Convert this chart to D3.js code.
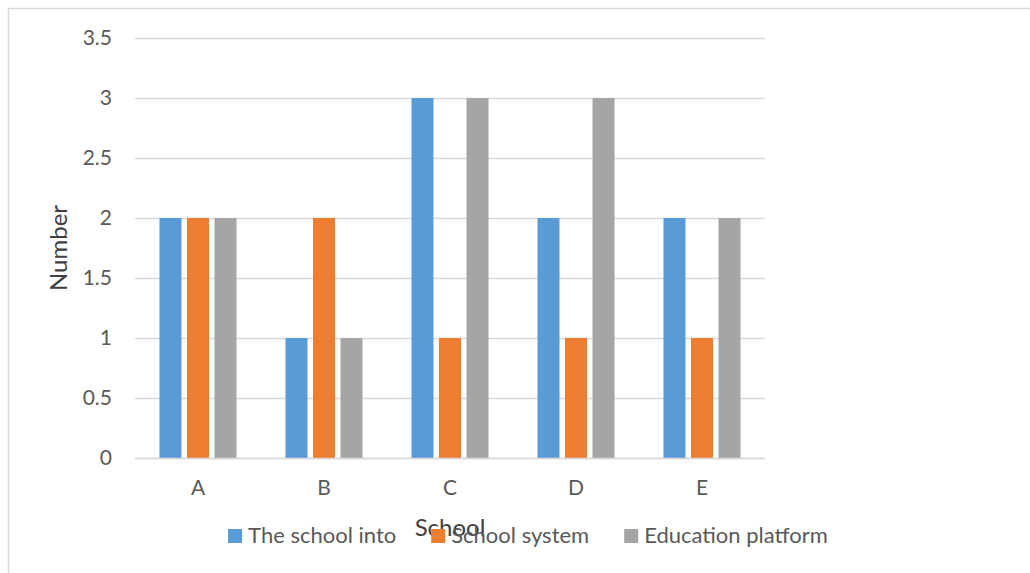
<!DOCTYPE html>
<html>
<head>
<meta charset="utf-8">
<script src="https://cdn.jsdelivr.net/npm/d3@7"></script>
<style>
  body { margin: 0; background: #fff; }
  text { font-family: Lato, "Open Sans", sans-serif; fill: #595959; }
</style>
</head>
<body>
<div id="chart"></div>
<script>
// data
const schools = ["A", "B", "C", "D", "E"]
const seriesNames = ["The school into", "School system", "Education platform"]
const schoolInto = [2, 1, 3, 2, 2]
const schoolSystem = [2, 2, 1, 1, 1]
const eduPlatform = [2, 1, 3, 3, 2]
const yTicks = [0, 0.5, 1, 1.5, 2, 2.5, 3, 3.5]
const colors = ["#5b9bd5", "#ed7d31", "#a5a5a5"]

const allSeries = [schoolInto, schoolSystem, eduPlatform]

const W = 1030, H = 573
const svg = d3.select("#chart").append("svg")
    .attr("width", W)
    .attr("height", H)

// outer frame (only top and left visible in the crop)
svg.append("rect")
    .attr("x", 8.5).attr("y", 8.5)
    .attr("width", W + 10).attr("height", H + 10)
    .attr("fill", "none")
    .attr("stroke", "#d9d9d9")
    .attr("stroke-width", 1.5)

const plot = { left: 135, right: 765, top: 38, bottom: 458 }

const x = d3.scaleBand()
    .domain(schools)
    .range([plot.left, plot.right])

const xInner = d3.scaleBand()
    .domain(d3.range(seriesNames.length))
    .range([0, x.bandwidth()])
    .paddingInner(0.2)
    .paddingOuter(0.89)

const y = d3.scaleLinear()
    .domain([0, 3.5])
    .range([plot.bottom, plot.top])

// gridlines
svg.append("g")
    .selectAll("line")
    .data(yTicks)
    .join("line")
    .attr("x1", plot.left)
    .attr("x2", plot.right)
    .attr("y1", d => Math.round(y(d)) + 0.5)
    .attr("y2", d => Math.round(y(d)) + 0.5)
    .attr("stroke", "#d9d9d9")
    .attr("stroke-width", 1.3)

// y axis labels
const yAxis = svg.append("g")
    .attr("transform", `translate(${plot.left},0)`)
    .call(d3.axisLeft(y).tickValues(yTicks).tickSize(0).tickPadding(23).tickFormat(d3.format("")))
yAxis.select(".domain").remove()
yAxis.selectAll("text")
    .style("font-size", "21px")
    .attr("fill", "#595959")
    .attr("font-family", null)

// bars
const groups = svg.append("g")
    .selectAll("g")
    .data(allSeries)
    .join("g")
    .attr("fill", (d, i) => colors[i])

groups.each(function (vals, si) {
    d3.select(this).selectAll("rect")
        .data(vals)
        .join("rect")
        .attr("x", (v, ci) => x(schools[ci]) + xInner(si))
        .attr("width", xInner.bandwidth())
        .attr("y", v => y(v))
        .attr("height", v => y(0) - y(v))
})

// baseline
svg.append("line")
    .attr("x1", plot.left).attr("x2", plot.right)
    .attr("y1", plot.bottom + 0.5).attr("y2", plot.bottom + 0.5)
    .attr("stroke", "#d9d9d9")
    .attr("stroke-width", 1.5)

// x axis labels
const xAxis = svg.append("g")
    .attr("transform", `translate(0,${plot.bottom})`)
    .call(d3.axisBottom(x).tickSize(0).tickPadding(22))
xAxis.select(".domain").remove()
xAxis.selectAll("text")
    .style("font-size", "21px")
    .attr("fill", "#595959")
    .attr("font-family", null)

// axis titles
svg.append("text")
    .attr("x", 450)
    .attr("y", 536)
    .attr("text-anchor", "middle")
    .style("font-size", "24px")
    .style("fill", "#404040")
    .text("School")

svg.append("text")
    .attr("transform", "translate(67,248) rotate(-90)")
    .attr("text-anchor", "middle")
    .style("font-size", "24px")
    .style("fill", "#404040")
    .text("Number")

// legend
const legend = svg.append("g")
let lx = 0
seriesNames.forEach((name, i) => {
    const item = legend.append("g").attr("transform", `translate(${lx},0)`)
    item.append("rect")
        .attr("x", 0).attr("y", -14)
        .attr("width", 14).attr("height", 14)
        .attr("fill", colors[i])
    const t = item.append("text")
        .attr("x", 20)
        .attr("y", 0)
        .style("font-size", "22px")
        .text(name)
    lx += 20 + t.node().getComputedTextLength() + 35
})
const legendWidth = lx - 35
legend.attr("transform", `translate(${528 - legendWidth / 2},543)`)
</script>
</body>
</html>
